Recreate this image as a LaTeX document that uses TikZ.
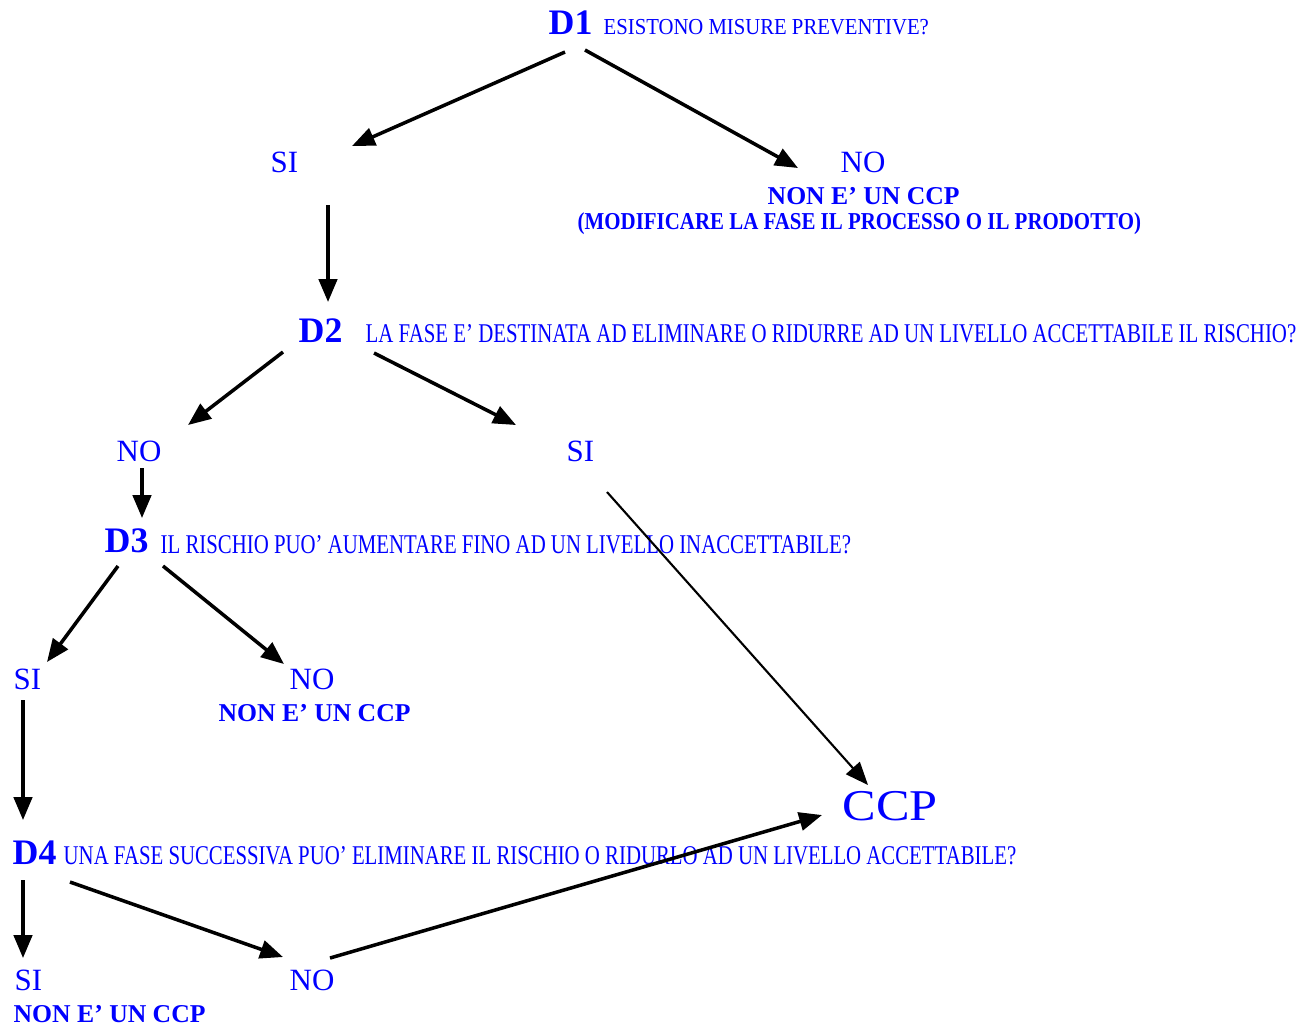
\documentclass[tikz,border=0pt]{standalone}
\usepackage{fontspec}
\setmainfont{Liberation Serif}
\usepackage{graphicx}
\usetikzlibrary{arrows.meta}

% squeeze a text to a given width, keeping its height
\newcommand{\squeeze}[2]{\resizebox{#1}{\height}{#2}}

\tikzset{
  lbl/.style={inner sep=0pt, anchor=base west, text=blue},
  dnode/.style={lbl, font=\fontsize{10.2}{12}\selectfont\bfseries},
  question/.style={lbl, font=\fontsize{7.7}{9}\selectfont},
  answer/.style={lbl, font=\fontsize{8.8}{10}\selectfont},
  verdict/.style={lbl, font=\fontsize{7.3}{9}\selectfont\bfseries},
  arr/.style={line width=1pt, -{Triangle[length=6.5pt,width=5.2pt]}},
  thinarr/.style={line width=0.6pt, -{Triangle[length=6.5pt,width=5.2pt]}}
}

\begin{document}
\begin{tikzpicture}[x=0.01cm, y=-0.01cm]
    \useasboundingbox (0,0) rectangle (1301,1026);

    % D1
    \node[dnode] (d1) at (548,34) {D1};
    \node[question, font=\fontsize{6.5}{8}\selectfont] (q1) at (603,34) {\squeeze{3.25cm}{ESISTONO MISURE PREVENTIVE?}};
    \node[answer] (si1) at (270,172) {SI};
    \node[answer] (no1) at (840,172) {NO};
    \node[verdict] (nc1) at (767,204) {NON E' UN CCP};
    \node[verdict, font=\fontsize{6.9}{8}\selectfont\bfseries] (mod) at (577,229) {\squeeze{5.63cm}{(MODIFICARE LA FASE IL PROCESSO O IL PRODOTTO)}};

    % D2
    \node[dnode] (d2) at (298,342) {D2};
    \node[question] (q2) at (365,342) {\squeeze{9.30cm}{LA FASE E' DESTINATA AD ELIMINARE O RIDURRE AD UN LIVELLO ACCETTABILE IL RISCHIO?}};
    \node[answer] (no2) at (116,461) {NO};
    \node[answer] (si2) at (566,461) {SI};

    % D3
    \node[dnode] (d3) at (104,552) {D3};
    \node[question] (q3) at (160,553) {\squeeze{6.90cm}{IL RISCHIO PUO' AUMENTARE FINO AD UN LIVELLO INACCETTABILE?}};
    \node[answer] (si3) at (13,689) {SI};
    \node[answer] (no3) at (289,689) {NO};
    \node[verdict] (nc3) at (218,721) {NON E' UN CCP};

    % CCP
    \node[lbl, font=\fontsize{12.5}{14}\selectfont] (ccp) at (842,820) {\squeeze{0.95cm}{CCP}};

    % D4
    \node[dnode] (d4) at (12,864) {D4};
    \node[question] (q4) at (63,864) {\squeeze{9.52cm}{UNA FASE SUCCESSIVA PUO' ELIMINARE IL RISCHIO O RIDURLO AD UN LIVELLO ACCETTABILE?}};
    \node[answer] (si4) at (14,990) {SI};
    \node[answer] (no4) at (289,990) {NO};
    \node[verdict] (nc4) at (13,1022) {NON E' UN CCP};

    % arrows
    \draw[arr] ([shift={(17,18)}]d1.base west) -- ([shift={(82,-26)}]si1.base west);
    \draw[arr] ([shift={(37,16)}]d1.base west) -- ([shift={(-42,-4)}]no1.base west);
    \draw[arr] ([shift={(58,33)}]si1.base west) -- ([shift={(30,-40)}]d2.base west);
    \draw[arr] ([shift={(-15,10)}]d2.base west) -- ([shift={(72,-36)}]no2.base west);
    \draw[arr] ([shift={(76,11)}]d2.base west) -- ([shift={(-50,-36)}]si2.base west);
    \draw[arr] ([shift={(26,7)}]no2.base west) -- ([shift={(38,-34)}]d3.base west);
    \draw[thinarr] ([shift={(41,31)}]si2.base west) -- ([shift={(26,-35)}]ccp.base west);
    \draw[arr] ([shift={(14,14)}]d3.base west) -- ([shift={(34,-27)}]si3.base west);
    \draw[arr] ([shift={(59,14)}]d3.base west) -- ([shift={(-5,-25)}]no3.base west);
    \draw[arr] ([shift={(10,11)}]si3.base west) -- ([shift={(11,-44)}]d4.base west);
    \draw[arr] ([shift={(11,16)}]d4.base west) -- ([shift={(9,-32)}]si4.base west);
    \draw[arr] ([shift={(58,18)}]d4.base west) -- ([shift={(-6,-33)}]no4.base west);
    \draw[arr] ([shift={(41,-32)}]no4.base west) -- ([shift={(-20,-5)}]ccp.base west);
\end{tikzpicture}
\end{document}
